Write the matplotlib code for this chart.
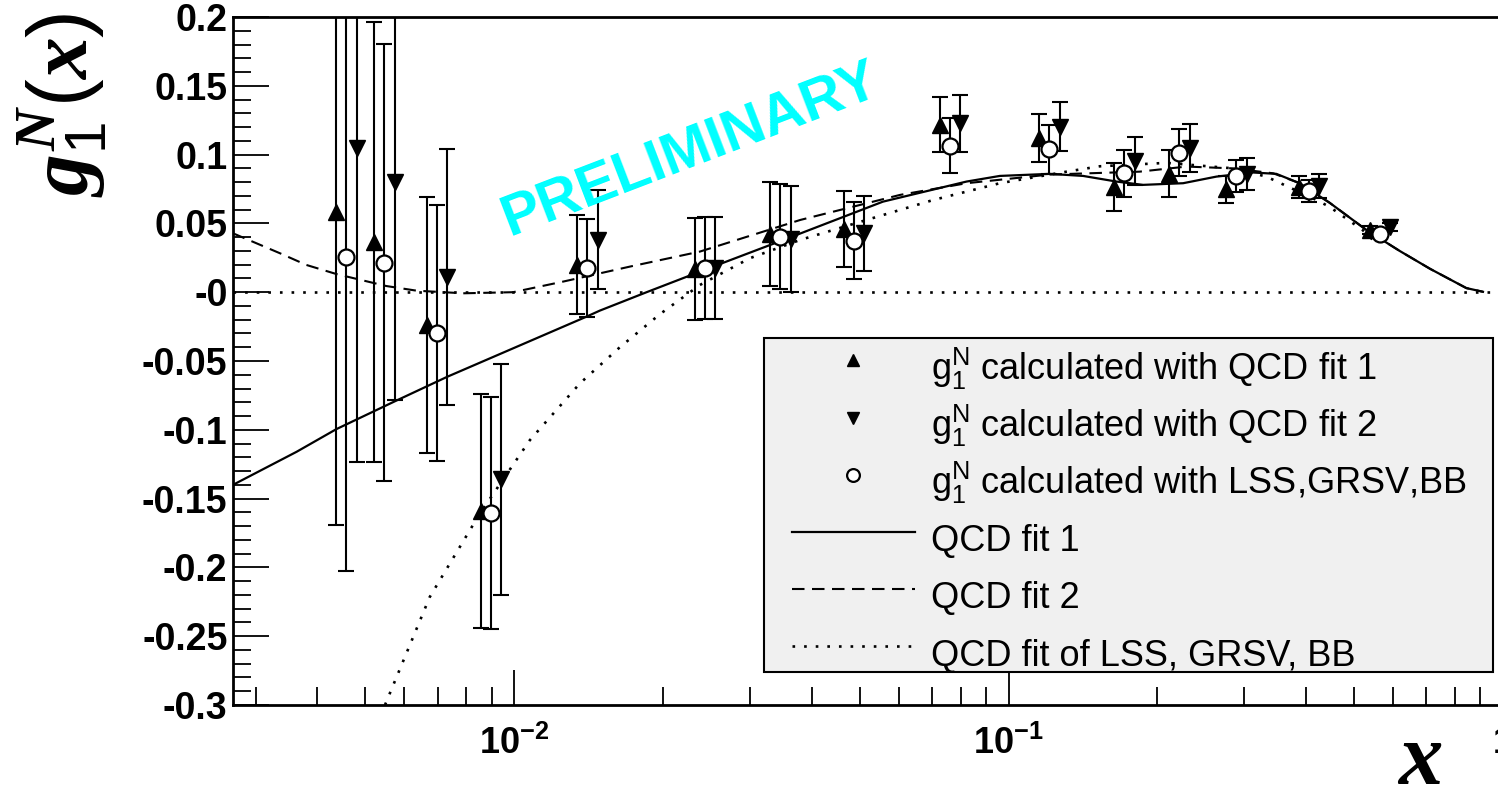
import numpy as np
import matplotlib
matplotlib.use("Agg")
import matplotlib.pyplot as plt
from matplotlib.patches import Rectangle
from matplotlib.ticker import LogLocator, NullFormatter, MultipleLocator

# ---------------- data ----------------
x_bins = [0.00458, 0.00546, 0.00697, 0.00897, 0.01407, 0.0243, 0.0345, 0.0486,
          0.0760, 0.1207, 0.1713, 0.2212, 0.2890, 0.4046, 0.5632]

g1_fit1 = [0.0586, 0.0365, -0.0239, -0.159, 0.0198, 0.0166, 0.0423, 0.0457,
           0.1216, 0.112, 0.0763, 0.086, 0.0748, 0.0763, 0.0452]
err_fit1 = [0.228, 0.160, 0.093, 0.085, 0.036, 0.037, 0.038, 0.0275,
            0.020, 0.0177, 0.0173, 0.017, 0.010, 0.008, 0.003]

g1_fit2 = [0.1047, 0.0803, 0.0113, -0.136, 0.038, 0.0174, 0.0385, 0.0428,
           0.1229, 0.1204, 0.0954, 0.105, 0.086, 0.0772, 0.0476]
err_fit2 = [0.228, 0.159, 0.093, 0.084, 0.036, 0.037, 0.0385, 0.0272,
            0.0207, 0.0177, 0.0177, 0.0173, 0.0117, 0.0085, 0.003]

g1_lss = [0.0256, 0.0215, -0.0294, -0.1604, 0.0178, 0.0174, 0.0404, 0.0375,
          0.1066, 0.104, 0.0864, 0.1015, 0.0845, 0.0739, 0.0423]
err_lss = [0.228, 0.159, 0.093, 0.0845, 0.0355, 0.037, 0.038, 0.0277,
           0.020, 0.0178, 0.0173, 0.017, 0.0115, 0.008, 0.003]

x_curve1 = [0.0027, 0.00363, 0.00437, 0.00576, 0.00733, 0.0140, 0.0149, 0.01853,
            0.02374, 0.03724, 0.0557, 0.0822, 0.0960, 0.1211, 0.1415, 0.1653,
            0.187, 0.2254, 0.2632, 0.312, 0.348, 0.388, 0.446, 0.5294, 0.618,
            0.712, 0.843, 0.911]
y_curve1 = [-0.140, -0.116, -0.0995, -0.079, -0.0614, -0.0178, -0.0134, 0.0,
            0.0149, 0.0416, 0.0658, 0.0804, 0.0845, 0.086, 0.0845, 0.0804,
            0.078, 0.0792, 0.084, 0.087, 0.086, 0.0792, 0.065, 0.0452, 0.030,
            0.017, 0.003, 0.0003]

x_curve2 = [0.0027, 0.00336, 0.0038, 0.00437, 0.00551, 0.00635, 0.00789, 0.00995,
            0.01256, 0.01714, 0.02374, 0.0379, 0.0603, 0.0822, 0.1211, 0.184,
            0.229, 0.2845, 0.343, 0.388, 0.446, 0.5294, 0.618, 0.712, 0.843, 0.911]
y_curve2 = [0.0428, 0.0283, 0.0198, 0.0132, 0.0045, 0.0011, -0.0008, 0.0,
            0.0077, 0.0186, 0.0295, 0.0525, 0.0707, 0.0792, 0.0855, 0.0876,
            0.0913, 0.090, 0.0864, 0.0792, 0.065, 0.0452, 0.030, 0.017, 0.003, 0.0003]

x_curve3 = [0.00548, 0.00675, 0.00852, 0.01076, 0.01358, 0.01636, 0.01971, 0.02374,
            0.02997, 0.0379, 0.0516, 0.0704, 0.0960, 0.131, 0.1529, 0.2086,
            0.2845, 0.3322, 0.4195, 0.446, 0.520, 0.5546]
y_curve3 = [-0.30, -0.2215, -0.161, -0.1075, -0.0663, -0.040, -0.016, 0.0052,
            0.0247, 0.038, 0.0525, 0.067, 0.0792, 0.0876, 0.0915, 0.094,
            0.090, 0.084, 0.067, 0.062, 0.0452, 0.0355]

y_ticks = [-0.3, -0.25, -0.2, -0.15, -0.1, -0.05, 0.0, 0.05, 0.1, 0.15, 0.2]
y_tick_labels = ["-0.3", "-0.25", "-0.2", "-0.15", "-0.1", "-0.05", "-0",
                 "0.05", "0.1", "0.15", "0.2"]
x_ticks = [0.01, 0.1, 1.0]
x_tick_labels = [r"$\mathbf{10^{-2}}$", r"$\mathbf{10^{-1}}$", r"$\mathbf{1}$"]

labels = [r"$\mathrm{g_1^N}$ calculated with QCD fit 1",
          r"$\mathrm{g_1^N}$ calculated with QCD fit 2",
          r"$\mathrm{g_1^N}$ calculated with LSS,GRSV,BB",
          "QCD fit 1", "QCD fit 2", "QCD fit of LSS, GRSV, BB"]

# ---------------- style ----------------
plt.rcParams['font.family'] = ['Liberation Sans', 'DejaVu Sans']
plt.rcParams['mathtext.fontset'] = 'custom'
plt.rcParams['mathtext.rm'] = 'Liberation Sans'
plt.rcParams['mathtext.bf'] = 'Liberation Sans:bold'
plt.rcParams['mathtext.it'] = 'Liberation Serif:bold:italic'
plt.rcParams['mathtext.sf'] = 'Liberation Sans'

W, H = 1498, 796
fig = plt.figure(figsize=(W / 100, H / 100), dpi=100)
ax = fig.add_axes([233 / W, 91 / H, 1270 / W, 688 / H])

shift_lo, shift_hi = 0.954, 1.051
xb = np.array(x_bins)
x_up = xb * shift_lo
x_dn = xb * shift_hi

# curves
l1, = ax.plot(x_curve1, y_curve1, color='black', lw=1.6, zorder=2)
l2, = ax.plot(x_curve2, y_curve2, color='black', lw=1.5, ls=(0, (6, 3.6)), zorder=2)
l3, = ax.plot(x_curve3, y_curve3, color='black', lw=1.9, ls=(0, (1, 3.4)), zorder=2)
ax.axhline(0.0, color='black', lw=1.9, ls=(0, (1, 3.4)), zorder=1)

# error bars
eb_kw = dict(fmt='none', ecolor='black', elinewidth=1.5, capsize=5.5, capthick=1.5, zorder=3)
ax.errorbar(x_up, g1_fit1, yerr=err_fit1, **eb_kw)
ax.errorbar(xb, g1_lss, yerr=err_lss, **eb_kw)
ax.errorbar(x_dn, g1_fit2, yerr=err_fit2, **eb_kw)

# markers
h_up, = ax.plot(x_up, g1_fit1, ls='none', marker='^', ms=11.5, color='black', zorder=5)
h_dn, = ax.plot(x_dn, g1_fit2, ls='none', marker='v', ms=11.5, color='black', zorder=5)
h_c, = ax.plot(xb, g1_lss, ls='none', marker='o', ms=11.5, mfc='white', mec='black',
               mew=1.6, zorder=5)

# axes
ax.set_xscale('log')
ax.set_xlim(0.0027, 1.0)
ax.set_ylim(-0.3, 0.2)
ax.set_xticks(x_ticks)
ax.set_xticklabels(x_tick_labels)
ax.xaxis.set_minor_locator(LogLocator(base=10, subs=np.arange(2, 10)))
ax.xaxis.set_minor_formatter(NullFormatter())
ax.set_yticks(y_ticks)
ax.set_yticklabels(y_tick_labels)
ax.yaxis.set_minor_locator(MultipleLocator(0.01))

ax.tick_params(axis='both', which='both', direction='in', top=False, right=False, color='black')
ax.tick_params(axis='x', which='major', length=25, width=1.3, pad=15, labelsize=26)
ax.tick_params(axis='x', which='minor', length=13, width=1.3)
ax.tick_params(axis='y', which='major', length=26, width=1.3, pad=4, labelsize=27)
ax.tick_params(axis='y', which='minor', length=13, width=1.3)
for lab in ax.get_yticklabels():
    lab.set_fontweight('bold')
for sp in ax.spines.values():
    sp.set_linewidth(2.0)

# labels
fig.text(62 / W, 1 - 12 / H, r"$\mathit{g_1^N(x)}$", rotation=90, ha='center', va='top',
         fontsize=60)
fig.text(1442 / W, 12 / H, r"$\mathit{x}$", ha='right', va='baseline', fontsize=64)

fig.text(690 / W, 1 - 150 / H, "PRELIMINARY", color='#00ffff', fontsize=42,
         fontweight='bold', rotation=21, ha='center', va='center', rotation_mode='anchor')

# legend: frame drawn as a box, entries placed inside
box = Rectangle((0.418, 0.048), 0.574, 0.4854, transform=ax.transAxes,
                facecolor='#f0f0f0', edgecolor='black', lw=1.5, zorder=6, clip_on=False)
ax.add_patch(box)
leg = ax.legend([h_up, h_dn, h_c, l1, l2, l3], labels, loc='upper left',
                bbox_to_anchor=(0.4402, 0.529), frameon=False, fontsize=26,
                handlelength=3.4, handleheight=1.95, handletextpad=0.45,
                borderpad=0.0, labelspacing=0.07, markerscale=0.8, borderaxespad=0)
leg.set_zorder(7)

fig.savefig("out.png", dpi=100, facecolor='white')
